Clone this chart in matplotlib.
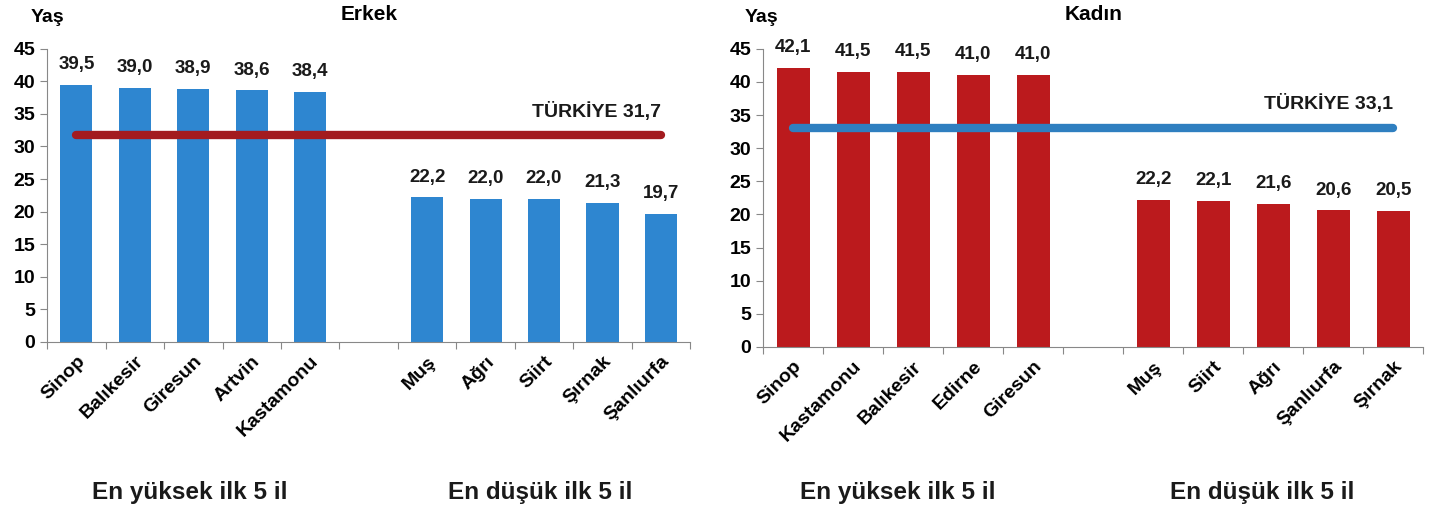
import matplotlib.pyplot as plt
import numpy as np

erkek_iller = ['Sinop', 'Balıkesir', 'Giresun', 'Artvin', 'Kastamonu',
               'Muş', 'Ağrı', 'Siirt', 'Şırnak', 'Şanlıurfa']
erkek_yas = [39.5, 39.0, 38.9, 38.6, 38.4, 22.2, 22.0, 22.0, 21.3, 19.7]
erkek_turkiye = 31.7

kadin_iller = ['Sinop', 'Kastamonu', 'Balıkesir', 'Edirne', 'Giresun',
               'Muş', 'Siirt', 'Ağrı', 'Şanlıurfa', 'Şırnak']
kadin_yas = [42.1, 41.5, 41.5, 41.0, 41.0, 22.2, 22.1, 21.6, 20.6, 20.5]
kadin_turkiye = 33.1

plt.rcParams['font.family'] = ['Liberation Sans', 'DejaVu Sans']

fig = plt.figure(figsize=(14.29, 5.14), dpi=100)
ax1 = fig.add_axes([0.033, 0.335, 0.450, 0.570])
ax2 = fig.add_axes([0.534, 0.325, 0.462, 0.580])

# 11 slots: 5 bars, a gap, 5 bars
pos = np.array([0, 1, 2, 3, 4, 6, 7, 8, 9, 10]) + 0.5


def panel(ax, iller, yas, turkiye, bar_color, line_color, title):
    ax.bar(pos, yas, width=0.55, color=bar_color)
    for x, v in zip(pos, yas):
        ax.text(x, v + 1.8, f'{v:.1f}'.replace('.', ','), ha='center', va='bottom',
                fontsize=13.5, fontweight='bold', color='#1a1a1a')
    ax.plot([pos[0], pos[-1]], [turkiye, turkiye], color=line_color, lw=6,
            solid_capstyle='round', zorder=3)
    ax.text(pos[-1], turkiye + 2.2, 'TÜRKİYE ' + f'{turkiye:.1f}'.replace('.', ','),
            ha='right', va='bottom', fontsize=14, fontweight='bold', color='#1a1a1a')
    ax.set_xlim(0, 11)
    ax.set_ylim(0, 45)
    ax.set_yticks(range(0, 46, 5))
    ax.set_xticks(range(0, 12))
    ax.set_xticklabels([])
    ax.set_xticks(pos, minor=True)
    ax.set_xticklabels(iller, minor=True, rotation=45, ha='right',
                       rotation_mode='anchor', fontsize=14, fontweight='bold')
    ax.tick_params(axis='x', which='minor', length=0, pad=8)
    ax.tick_params(axis='x', which='major', length=5, color='#888888')
    ax.tick_params(axis='y', length=5, color='#888888', labelsize=14)
    for lab in ax.get_yticklabels():
        lab.set_fontweight('bold')
    for s in ['top', 'right']:
        ax.spines[s].set_visible(False)
    ax.spines['left'].set_color('#888888')
    ax.spines['bottom'].set_color('#888888')
    ax.set_title(title, fontsize=15, fontweight='bold', y=1.07)


panel(ax1, erkek_iller, erkek_yas, erkek_turkiye, '#2e86d0', '#a31b1f', 'Erkek')
panel(ax2, kadin_iller, kadin_yas, kadin_turkiye, '#bb1a1d', '#2f7fc0', 'Kadın')

fig.text(47 / 1429, 1 - 18 / 514, 'Yaş', ha='center', va='center', fontsize=14, fontweight='bold')
fig.text(761 / 1429, 1 - 18 / 514, 'Yaş', ha='center', va='center', fontsize=14, fontweight='bold')

for x, t in [(190, 'En yüksek ilk 5 il'), (540, 'En düşük ilk 5 il'),
             (898, 'En yüksek ilk 5 il'), (1262, 'En düşük ilk 5 il')]:
    fig.text(x / 1429, 1 - 492 / 514, t, ha='center', va='center',
             fontsize=17.5, fontweight='bold', color='#1a1a1a')

fig.savefig('out.png', dpi=100)
